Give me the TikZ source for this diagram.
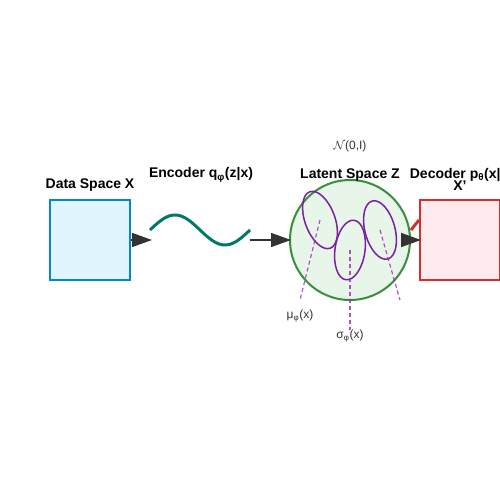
\documentclass[tikz,border=0pt]{standalone}
\usepackage{fontspec}
\setmainfont{Liberation Sans}
\usetikzlibrary{arrows.meta}
\definecolor{bluefill}{HTML}{E1F5FE}
\definecolor{bluestroke}{HTML}{0288D1}
\definecolor{teal}{HTML}{00796B}
\definecolor{greenfill}{HTML}{E8F5E9}
\definecolor{greenstroke}{HTML}{388E3C}
\definecolor{purp}{HTML}{7B1FA2}
\definecolor{purpl}{HTML}{9C27B0}
\definecolor{redstroke}{HTML}{D32F2F}
\definecolor{redfill}{HTML}{FFEBEE}
\definecolor{dark}{HTML}{333333}
\tikzset{
  title/.style={font=\fontsize{14}{16}\selectfont\bfseries, text=black, inner sep=0pt},
  small/.style={font=\fontsize{12}{14}\selectfont, text=dark, inner sep=0pt},
  arr/.style={draw=dark, line width=1.5pt, -{Triangle[length=20pt,width=14pt]}},
  blob/.style={draw=purp, line width=1.5pt},
  guide/.style={draw=purpl, line width=1.2pt, dash pattern=on 4pt off 3pt, opacity=0.8},
}
\begin{document}
\begin{tikzpicture}[x=1pt,y=1pt]
\useasboundingbox (0,0) rectangle (500,500);
\clip (0,0) rectangle (500,500);
% data space
\node[draw=bluestroke, fill=bluefill, line width=2pt, minimum width=80pt, minimum height=80pt, inner sep=0pt] (data) at (90,260) {};
\node[title] (datal) at (90,315) {Data Space X};
% encoder
\node[title] (encl) at (201,325) {Encoder q\textsubscript{φ}(z|x)};
\coordinate (w1) at (152,260);
\draw[arr] (data.east) -- (w1);
\draw[teal, line width=3pt, domain=150:250, samples=80, smooth] plot (\x, {270+15*sin((\x-150)*3.6)});
\coordinate (w2) at (250,260);
% latent
\node[circle, draw=greenstroke, fill=greenfill, line width=2pt, minimum size=120pt, inner sep=0pt] (lat) at (350,260) {};
\node[title] (latl) at (350,325) {Latent Space Z};
\node[small] (prior) at (350,354) {$\mathcal{N}$(0,I)};
\draw[arr] (w2) -- ([xshift=2pt]lat.west);
\coordinate (e1) at (320,280);
\coordinate (e2) at (350,250);
\coordinate (e3) at (380,270);
\draw[blob, rotate around={20:(e1)}] (e1) ellipse [x radius=15, y radius=30];
\draw[blob, rotate around={-8:(e2)}] (e2) ellipse [x radius=15, y radius=30];
\draw[blob, rotate around={15:(e3)}] (e3) ellipse [x radius=15, y radius=30];
\coordinate (g1) at (300,200);
\coordinate (g2) at (350,170);
\coordinate (g3) at (400,200);
\draw[guide] (e1) -- (g1);
\draw[guide] (e2) -- (g2);
\draw[guide] (e3) -- (g3);
\node[small] (mu) at (300,184) {μ\textsubscript{φ}(x)};
\node[small] (sig) at (350,164) {σ\textsubscript{φ}(x)};
% decoder
\node[draw=redstroke, fill=redfill, line width=2pt, minimum width=80pt, minimum height=80pt, inner sep=0pt] (dec) at (460,260) {};
\draw[redstroke, line width=3pt] ([yshift=10pt]lat.east) -- ([yshift=20pt]dec.west);
\draw[arr] ([xshift=-8pt]lat.east) -- ([xshift=2pt]dec.west);
\node[title] (decl) at (461,325) {Decoder p\textsubscript{θ}(x|z)};
\node[title] (xp) at (460,314) {X'};
\end{tikzpicture}
\end{document}
